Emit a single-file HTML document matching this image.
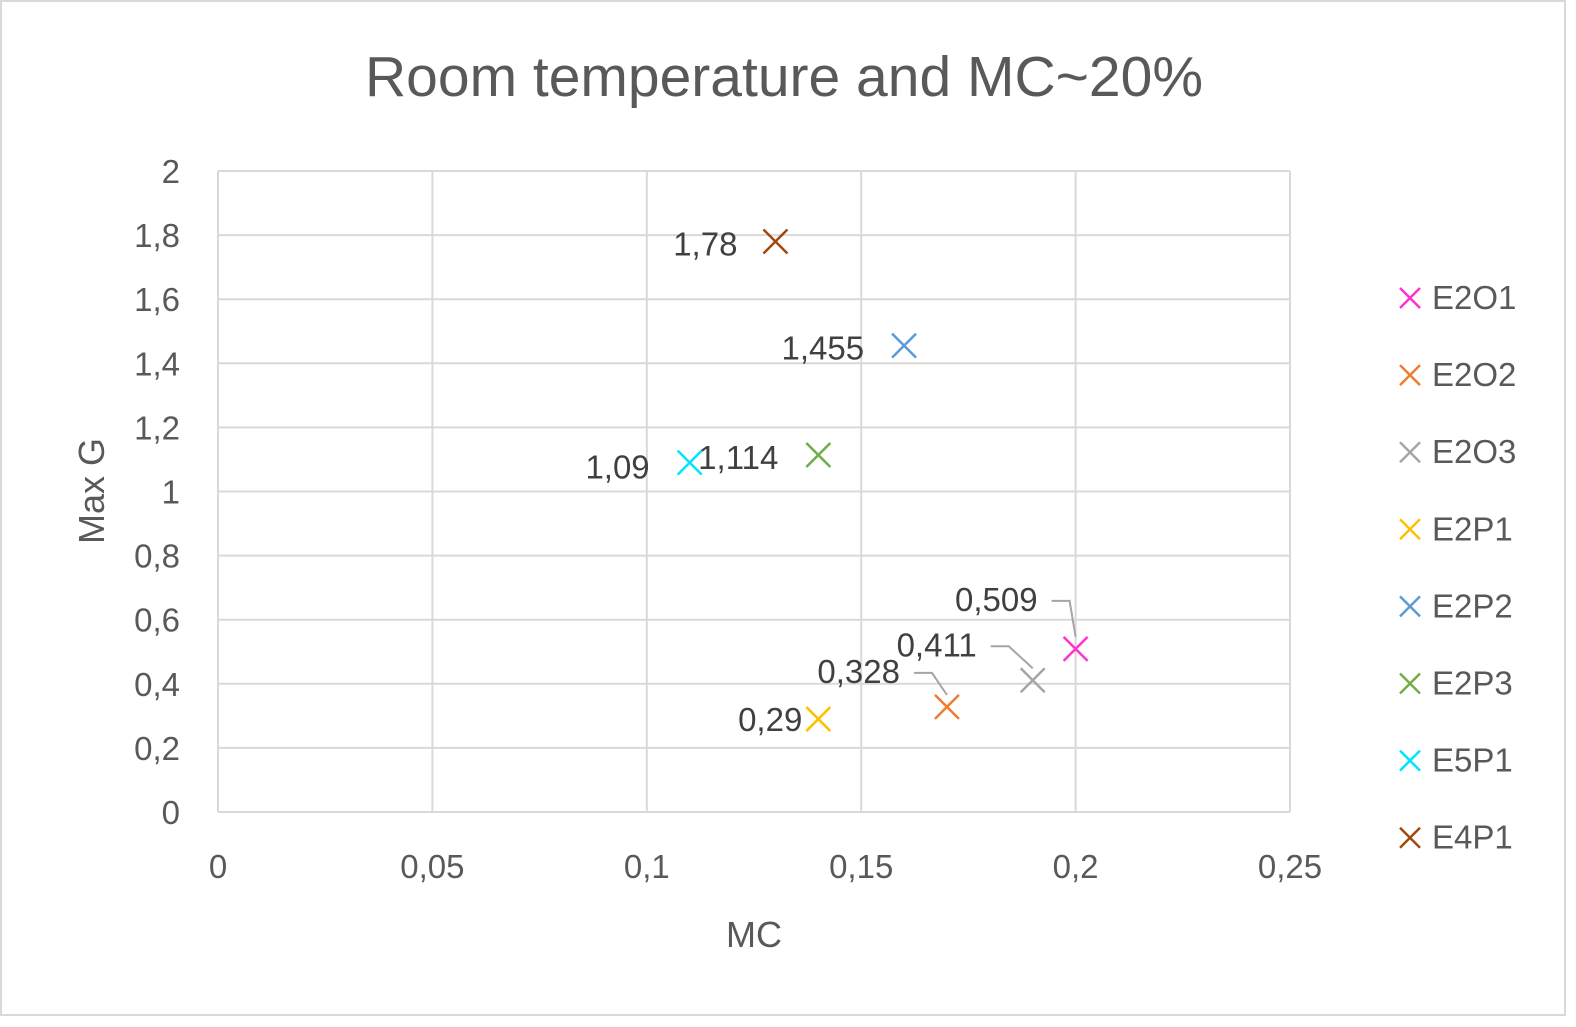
<!DOCTYPE html>
<html><head><meta charset="utf-8"><style>
body{margin:0;background:#fff;}
svg text{font-family:"Liberation Sans",sans-serif;fill:#595959;}
</style></head><body>
<svg id="c" width="1576" height="1022" xmlns="http://www.w3.org/2000/svg">
<rect x="1" y="1" width="1564" height="1014" fill="#fff" stroke="#d9d9d9" stroke-width="2"/>
<text x="784" y="96" font-size="57" text-anchor="middle">Room temperature and MC~20%</text>
<text x="754" y="947" font-size="36" text-anchor="middle">MC</text>
<text transform="translate(104,491) rotate(-90)" font-size="36" text-anchor="middle">Max G</text>
<g id="grid"></g><g id="marks"></g><g id="legend"></g>
</svg>
<script>
const seriesNames=["E2O1","E2O2","E2O3","E2P1","E2P2","E2P3","E5P1","E4P1"];
const mcValues=[0.2,0.17,0.19,0.14,0.16,0.14,0.11,0.13];
const maxGValues=[0.509,0.328,0.411,0.29,1.455,1.114,1.09,1.78];
const valueLabels=["0,509","0,328","0,411","0,29","1,455","1,114","1,09","1,78"];
const xTicks=[0,0.05,0.1,0.15,0.2,0.25];
const xTickLabels=["0","0,05","0,1","0,15","0,2","0,25"];
const yTicks=[0,0.2,0.4,0.6,0.8,1,1.2,1.4,1.6,1.8,2];
const yTickLabels=["0","0,2","0,4","0,6","0,8","1","1,2","1,4","1,6","1,8","2"];
const colors=["#ff33cc","#ed7d31","#a5a5a5","#ffc000","#5b9bd5","#70ad47","#00e5ff","#9e480e"];
const X0=218,X1=1290,Y0=812,Y1=171;
const xs=v=>X0+(v/0.25)*(X1-X0);
const ys=v=>Y0-(v/2)*(Y0-Y1);
const NS="http://www.w3.org/2000/svg";
function mk(tag,attrs,parent){const e=document.createElementNS(NS,tag);for(const k in attrs)e.setAttribute(k,attrs[k]);parent.appendChild(e);return e;}
const grid=document.getElementById('grid'),marks=document.getElementById('marks'),legend=document.getElementById('legend');
yTicks.forEach((t,i)=>{
  const l=mk('line',{x1:X0,x2:X1,y1:ys(t),y2:ys(t),stroke:'#d9d9d9','stroke-width':2},grid);
  
  
  const tx=mk('text',{x:180,y:ys(t)+12,'font-size':33,'text-anchor':'end'},grid);tx.textContent=yTickLabels[i];
  
  
});
xTicks.forEach((t,i)=>{
  const l=mk('line',{x1:xs(t),x2:xs(t),y1:Y1,y2:Y0,stroke:'#d9d9d9','stroke-width':2},grid);
  
  
  const tx=mk('text',{x:xs(t),y:878,'font-size':33,'text-anchor':'middle'},grid);tx.textContent=xTickLabels[i];
  
  
});
const lab=[[-38,-38,1],[-47,-24,1],[-56,-24,1],[-16,12,0],[-40,14,0],[-40,14,0],[-40,16,0],[-38,14,0]];
function cross(x,y,c,s,p){const g=mk('g',{},p);
  mk('line',{x1:x-s,y1:y-s,x2:x+s,y2:y+s,stroke:c,'stroke-width':2.5},g);
  mk('line',{x1:x-s,y1:y+s,x2:x+s,y2:y-s,stroke:c,'stroke-width':2.5},g);return g;}
seriesNames.forEach((n,i)=>{
  const px=xs(mcValues[i]),py=ys(maxGValues[i]);
  const g=cross(px,py,colors[i],12,marks);
  
  
  let tx=px+lab[i][0],ty=py+lab[i][1];
  const t=mk('text',{x:tx,y:ty,'font-size':33,'text-anchor':'end',fill:'#404040'},marks);
  t.style.fill='#404040';t.textContent=valueLabels[i];
  
  
  if(lab[i][2]){
    const lx=tx+14,ly=ty-10;
    const pl=mk('polyline',{points:`${lx},${ly} ${lx+18},${ly} ${px},${py-12}`,fill:'none',stroke:'#a5a5a5','stroke-width':2},marks);
    
    
  }
  const ly=298+i*77.1;
  const lg=cross(1410,ly,colors[i],10,legend);
  
  
  const lt=mk('text',{x:1432,y:ly+11,'font-size':33},legend);lt.textContent=n;
  
  
});
</script>
</body></html>
